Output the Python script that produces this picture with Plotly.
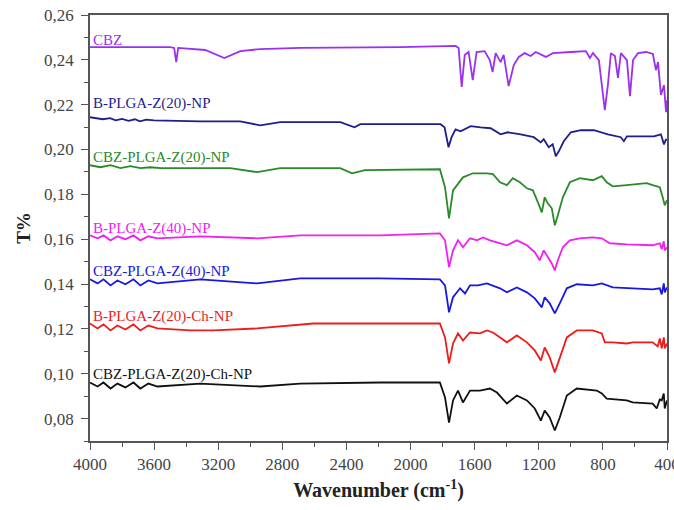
import plotly.graph_objects as go

# ---------------- data ----------------
cbz_wn = [4000, 3500, 3475, 3462, 3450, 3344, 3281, 3162, 3062, 2938, 2688, 2063, 1719, 1700, 1681, 1662, 1638, 1612, 1588, 1538,
          1506, 1488, 1469, 1438, 1419, 1388, 1356, 1325, 1288, 1250, 1219, 1156, 1112, 1000, 906, 881, 862, 825, 806, 788,
          769, 750, 725, 706, 688, 650, 631, 612, 581, 531, 488, 469, 456, 438, 419, 406, 400]
cbz_t = [0.2457, 0.2457, 0.2453, 0.2390, 0.2453, 0.2448, 0.2444, 0.2408, 0.2439, 0.2448, 0.2453, 0.2457, 0.2462, 0.2453, 0.2279,
         0.2422, 0.2435, 0.2310, 0.2435, 0.2439, 0.2399, 0.2346, 0.2430, 0.2390, 0.2422, 0.2283, 0.2377, 0.2413, 0.2430, 0.2417,
         0.2435, 0.2413, 0.2430, 0.2435, 0.2439, 0.2408, 0.2430, 0.2399, 0.2287, 0.2176, 0.2287, 0.2430, 0.2417, 0.2319, 0.2430,
         0.2399, 0.2238, 0.2399, 0.2430, 0.2435, 0.2426, 0.2354, 0.2390, 0.2243, 0.2287, 0.2167, 0.2220]

bz20_wn = [4000, 3950, 3920, 3875, 3840, 3800, 3760, 3720, 3688, 3650, 3600, 3313, 3063, 2938, 2813, 2438, 2375, 2350, 2313,
           1813, 1788, 1763, 1744, 1719, 1688, 1625, 1563, 1500, 1438, 1394, 1313, 1231, 1188, 1169, 1138, 1113, 1094, 1075,
           1044, 1000, 938, 856, 769, 688, 669, 650, 481, 438, 419, 406, 400]
bz20_t = [0.2144, 0.2140, 0.2135, 0.2140, 0.2130, 0.2137, 0.2128, 0.2135, 0.2126, 0.2133, 0.2130, 0.2126, 0.2126, 0.2108, 0.2122,
          0.2122, 0.2104, 0.2099, 0.2113, 0.2113, 0.2099, 0.2010, 0.2055, 0.2090, 0.2081, 0.2104, 0.2099, 0.2095, 0.2068, 0.2077,
          0.2068, 0.2055, 0.2032, 0.2046, 0.2010, 0.2023, 0.1970, 0.1992, 0.2037, 0.2077, 0.2086, 0.2086, 0.2068, 0.2055, 0.2037,
          0.2059, 0.2059, 0.2068, 0.2023, 0.2046, 0.2040]

cz20_wn = [4000, 3935, 3872, 3810, 3748, 3685, 3623, 3561, 3125, 2957, 2813, 2439, 2365, 2284, 1817, 1785, 1760, 1735, 1673, 1611,
           1524, 1486, 1442, 1399, 1362, 1318, 1274, 1237, 1206, 1181, 1163, 1144, 1119, 1100, 1081, 1050, 1006, 944, 863, 807,
           776, 738, 651, 527, 489, 445, 427, 414, 400]
cz20_t = [0.1930, 0.1921, 0.1930, 0.1917, 0.1926, 0.1917, 0.1921, 0.1917, 0.1917, 0.1899, 0.1917, 0.1917, 0.1894, 0.1908, 0.1912,
          0.1832, 0.1693, 0.1818, 0.1876, 0.1894, 0.1894, 0.1890, 0.1854, 0.1841, 0.1872, 0.1854, 0.1827, 0.1818, 0.1765, 0.1720,
          0.1787, 0.1760, 0.1738, 0.1662, 0.1707, 0.1787, 0.1854, 0.1872, 0.1863, 0.1881, 0.1854, 0.1836, 0.1841, 0.1850, 0.1841,
          0.1832, 0.1787, 0.1751, 0.1774]

bz40_wn = [4000, 3953, 3916, 3872, 3829, 3779, 3729, 3686, 3636, 3579, 3312, 2957, 2689, 2190, 1817, 1785, 1760, 1735, 1704, 1673,
           1629, 1585, 1548, 1505, 1461, 1399, 1337, 1274, 1225, 1194, 1169, 1144, 1119, 1100, 1081, 1050, 1006, 944, 863, 807,
           757, 651, 489, 445, 433, 420, 414, 400]
bz40_t = [0.1617, 0.1604, 0.1617, 0.1595, 0.1613, 0.1600, 0.1617, 0.1595, 0.1613, 0.1604, 0.1613, 0.1604, 0.1617, 0.1617, 0.1626,
          0.1595, 0.1475, 0.1550, 0.1595, 0.1564, 0.1604, 0.1595, 0.1608, 0.1595, 0.1586, 0.1573, 0.1595, 0.1573, 0.1542, 0.1506,
          0.1550, 0.1519, 0.1492, 0.1461, 0.1506, 0.1564, 0.1595, 0.1604, 0.1608, 0.1604, 0.1582, 0.1577, 0.1573, 0.1582, 0.1555,
          0.1591, 0.1550, 0.1564]

cz40_wn = [4000, 3953, 3916, 3872, 3829, 3779, 3729, 3686, 3636, 3579, 3312, 2957, 2689, 2190, 1817, 1785, 1760, 1735, 1691, 1660,
           1629, 1579, 1524, 1486, 1442, 1399, 1337, 1274, 1225, 1181, 1163, 1132, 1100, 1069, 1025, 963, 863, 807, 738, 614,
           489, 445, 433, 420, 414, 400]
cz40_t = [0.1421, 0.1403, 0.1421, 0.1394, 0.1416, 0.1399, 0.1421, 0.1394, 0.1416, 0.1403, 0.1421, 0.1403, 0.1425, 0.1425, 0.1421,
          0.1394, 0.1274, 0.1341, 0.1381, 0.1358, 0.1394, 0.1394, 0.1403, 0.1394, 0.1381, 0.1363, 0.1385, 0.1363, 0.1336, 0.1296,
          0.1341, 0.1314, 0.1269, 0.1314, 0.1381, 0.1399, 0.1394, 0.1403, 0.1385, 0.1381, 0.1376, 0.1381, 0.1354, 0.1403, 0.1363,
          0.1385]

bch_wn = [4000, 3953, 3916, 3872, 3829, 3779, 3729, 3686, 3636, 3579, 3374, 3231, 2957, 2608, 2190, 1817, 1785, 1760, 1735, 1704,
          1673, 1629, 1567, 1524, 1486, 1442, 1399, 1337, 1274, 1225, 1187, 1163, 1132, 1100, 1069, 1025, 963, 863, 807, 788,
          738, 651, 614, 489, 458, 445, 433, 420, 414, 400]
bch_t = [0.1224, 0.1202, 0.1220, 0.1193, 0.1215, 0.1197, 0.1220, 0.1193, 0.1215, 0.1202, 0.1193, 0.1193, 0.1202, 0.1224, 0.1224,
         0.1224, 0.1162, 0.1046, 0.1135, 0.1180, 0.1148, 0.1184, 0.1180, 0.1193, 0.1184, 0.1162, 0.1140, 0.1171, 0.1140, 0.1104,
         0.1059, 0.1117, 0.1073, 0.1006, 0.1068, 0.1162, 0.1193, 0.1193, 0.1180, 0.1140, 0.1140, 0.1135, 0.1140, 0.1140, 0.1122,
         0.1157, 0.1113, 0.1162, 0.1113, 0.1135]

cch_wn = [4000, 3953, 3916, 3872, 3829, 3779, 3729, 3686, 3636, 3579, 3312, 2938, 2689, 2190, 1817, 1785, 1760, 1735, 1704, 1673,
          1629, 1567, 1505, 1461, 1399, 1337, 1274, 1225, 1187, 1163, 1132, 1100, 1069, 1025, 963, 838, 807, 776, 651, 614,
          489, 464, 445, 433, 420, 414, 400]
cch_t = [0.0961, 0.0943, 0.0961, 0.0934, 0.0956, 0.0939, 0.0961, 0.0934, 0.0956, 0.0943, 0.0956, 0.0943, 0.0956, 0.0961, 0.0961,
         0.0894, 0.0782, 0.0881, 0.0925, 0.0872, 0.0925, 0.0925, 0.0934, 0.0916, 0.0867, 0.0903, 0.0881, 0.0845, 0.0791, 0.0836,
         0.0805, 0.0747, 0.0805, 0.0903, 0.0934, 0.0925, 0.0912, 0.0889, 0.0881, 0.0872, 0.0867, 0.0845, 0.0885, 0.0881, 0.0912,
         0.0845, 0.0881]

series_names = ["CBZ", "B-PLGA-Z(20)-NP", "CBZ-PLGA-Z(20)-NP", "B-PLGA-Z(40)-NP",
                "CBZ-PLGA-Z(40)-NP", "B-PLGA-Z(20)-Ch-NP", "CBZ-PLGA-Z(20)-Ch-NP"]
label_y = [0.2490, 0.2205, 0.1966, 0.1649, 0.1457, 0.1256, 0.0997]

# ---------------- figure ----------------
colors = ["#9B30F0", "#1E1E8C", "#2A8A2A", "#F020F0", "#1818E0", "#EE1C1C", "#111111"]
xs = [cbz_wn, bz20_wn, cz20_wn, bz40_wn, cz40_wn, bch_wn, cch_wn]
ys = [cbz_t, bz20_t, cz20_t, bz40_t, cz40_t, bch_t, cch_t]

FONT = "Liberation Serif, Times New Roman, serif"
fig = go.Figure()
for name, x, y, c in zip(series_names, xs, ys, colors):
    fig.add_trace(go.Scatter(x=x, y=y, mode="lines", name=name,
                             line=dict(color=c, width=1.8), showlegend=False))

for name, ly, c in zip(series_names, label_y, colors):
    fig.add_annotation(x=4000, y=ly, xref="x", yref="y", text=name, showarrow=False,
                       xanchor="left", yanchor="middle", xshift=1,
                       font=dict(family=FONT, size=15, color=c))

axis_common = dict(showline=True, linecolor="#555", linewidth=1.5, mirror=True,
                   ticks="outside", ticklen=7, tickwidth=1.3, tickcolor="#555",
                   showgrid=False, zeroline=False, ticklabeloverflow="allow", automargin=False,
                   tickfont=dict(family=FONT, size=17, color="#444"))

fig.update_xaxes(range=[4000, 400], tick0=400, dtick=400,
                 minor=dict(ticks="outside", ticklen=4, tickcolor="#555", dtick=200, tick0=400, showgrid=False),
                 title=dict(text="<b>Wavenumber (cm<sup>-1</sup>)</b>", font=dict(family=FONT, size=20, color="#222"),
                            standoff=10),
                 **axis_common)
fig.update_yaxes(range=[0.07, 0.26], tick0=0.08, dtick=0.02, tickformat=".2f",
                 minor=dict(ticks="outside", ticklen=4, tickcolor="#555", dtick=0.01, showgrid=False),
                 ticklabelstandoff=4,
                 title=dict(text="<b>T%</b>", font=dict(family=FONT, size=19, color="#222"), standoff=8),
                 **axis_common)

fig.update_layout(width=674, height=510, separators=", ",
                  margin=dict(l=90, r=7, t=15, b=69),
                  plot_bgcolor="white", paper_bgcolor="white")

# remove the page's default 8px body margin so the figure fills the window exactly
fig.write_html("out.html", config={"displayModeBar": False},
               post_script="document.body.style.margin='0';document.body.style.overflow='hidden';")
